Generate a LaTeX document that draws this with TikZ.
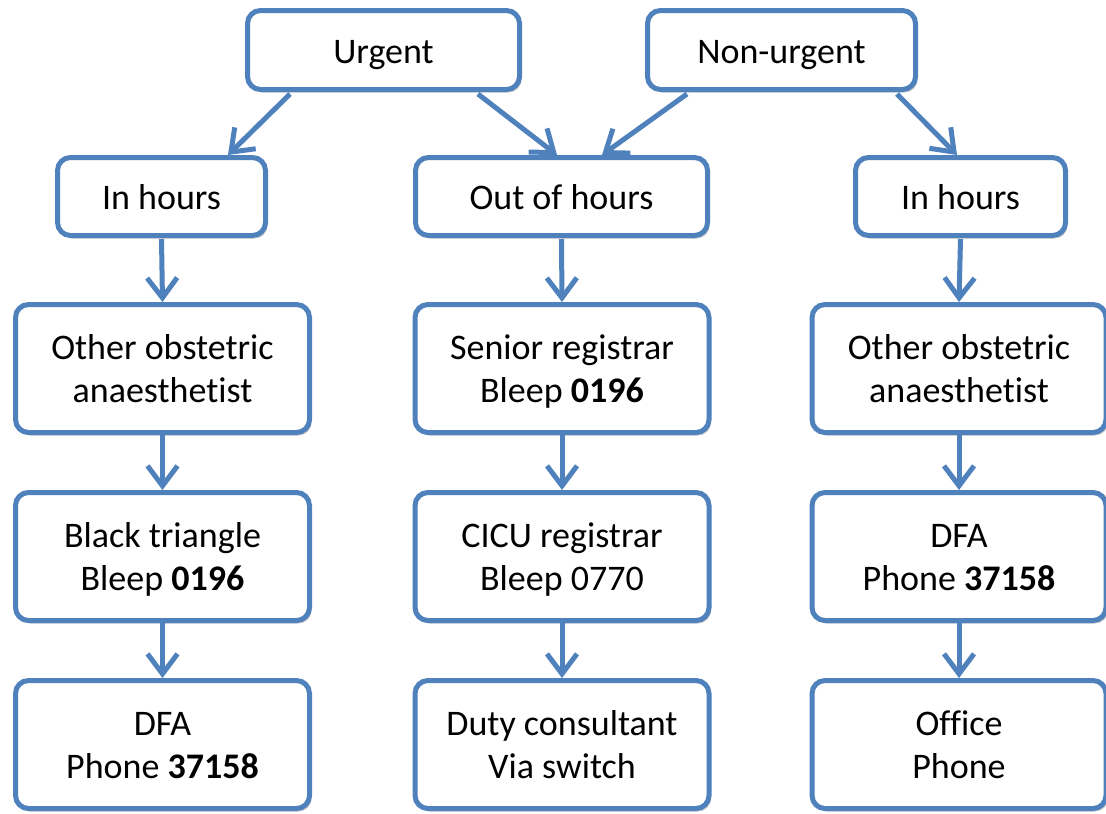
\documentclass[tikz,border=0pt]{standalone}
\usepackage{fontspec}
\setmainfont{Carlito}[Ligatures=NoCommon]
\usetikzlibrary{arrows.meta,shadows}
\definecolor{boxblue}{RGB}{79,129,189}
\newcommand\mytstrut{\rule{0pt}{35pt}}
\newcommand\mybstrut{\rule[-9pt]{0pt}{9pt}}
\newcommand\twol[2]{\raisebox{-4pt}[\height][\depth]{\begin{tabular}{@{}c@{}}#1\\#2\end{tabular}}}
\begin{document}
\begin{tikzpicture}[x=1pt,y=-1pt,
  box/.style={draw=boxblue, line width=5pt, rounded corners=13pt, fill=white,
    inner sep=0pt, text=black,
    font=\fontsize{36}{43.5}\selectfont,
    drop shadow={shadow xshift=2pt, shadow yshift=-3pt, opacity=0.22, fill=black}},
  topbox/.style={box, minimum height=79pt, execute at begin node={\mytstrut}, execute at end node={\mybstrut}},
  midbox/.style={box, minimum height=78pt, execute at begin node={\mytstrut}, execute at end node={\mybstrut}},
  bigbox/.style={box, minimum width=294pt, minimum height=128pt},
  conn/.style={draw=boxblue, line width=5pt, -{Straight Barb[length=20pt,width=30pt]}}
]
\useasboundingbox (0,0) rectangle (1106,814);
\fill[white] (0,0) rectangle (1106,814);

% row 1
\node[topbox, minimum width=272pt] (urg) at (383.5,50) {Urgent};
\node[topbox, minimum width=268pt] (non) at (781.5,50) {Non-urgent};
% row 2
\node[midbox, minimum width=208pt] (inl) at (161.5,196.5) {In hours};
\node[midbox, minimum width=292pt] (ooh) at (561.5,196.5) {Out of hours};
\node[midbox, minimum width=210pt] (inr) at (960.5,196.5) {In hours};
% row 3
\node[bigbox] (l3) at (162.5,368.5) {\twol{Other obstetric}{anaesthetist}};
\node[bigbox] (m3) at (562,368.5) {\twol{Senior registrar}{Bleep \textbf{0196}}};
\node[bigbox] (r3) at (959,368.5) {\twol{Other obstetric}{anaesthetist}};
% row 4
\node[bigbox] (l4) at (162.5,556.5) {\twol{Black triangle}{Bleep \textbf{0196}}};
\node[bigbox] (m4) at (562,556.5) {\twol{CICU registrar}{Bleep 0770}};
\node[bigbox] (r4) at (959,556.5) {\twol{DFA}{Phone \textbf{37158}}};
% row 5
\node[bigbox] (l5) at (162.5,744.5) {\twol{DFA}{Phone \textbf{37158}}};
\node[bigbox] (m5) at (562,744.5) {\twol{Duty consultant}{Via switch}};
\node[bigbox] (r5) at (959,744.5) {\twol{Office}{Phone}};

% diagonal connectors
\draw[conn] ([xshift=-93.5pt,yshift=-2pt]urg.south) -- ([xshift=66.5pt]inl.north);
\draw[conn] ([xshift=94.5pt,yshift=-2pt]urg.south) -- ([xshift=-4.5pt]ooh.north);
\draw[conn] ([xshift=-94.5pt,yshift=-2pt]non.south) -- ([xshift=40.5pt]ooh.north);
\draw[conn] ([xshift=115.5pt,yshift=-2pt]non.south) -- ([xshift=-3.5pt]inr.north);

% vertical connectors
\draw[conn] ([yshift=-1pt]inl.south) -- (l3.north);
\draw[conn] ([yshift=-1pt]ooh.south) -- (m3.north);
\draw[conn] ([yshift=-1pt]inr.south) -- (r3.north);
\draw[conn] (l3) -- (l4);
\draw[conn] (m3) -- (m4);
\draw[conn] (r3) -- (r4);
\draw[conn] (l4) -- (l5);
\draw[conn] (m4) -- (m5);
\draw[conn] (r4) -- (r5);
\end{tikzpicture}
\end{document}
